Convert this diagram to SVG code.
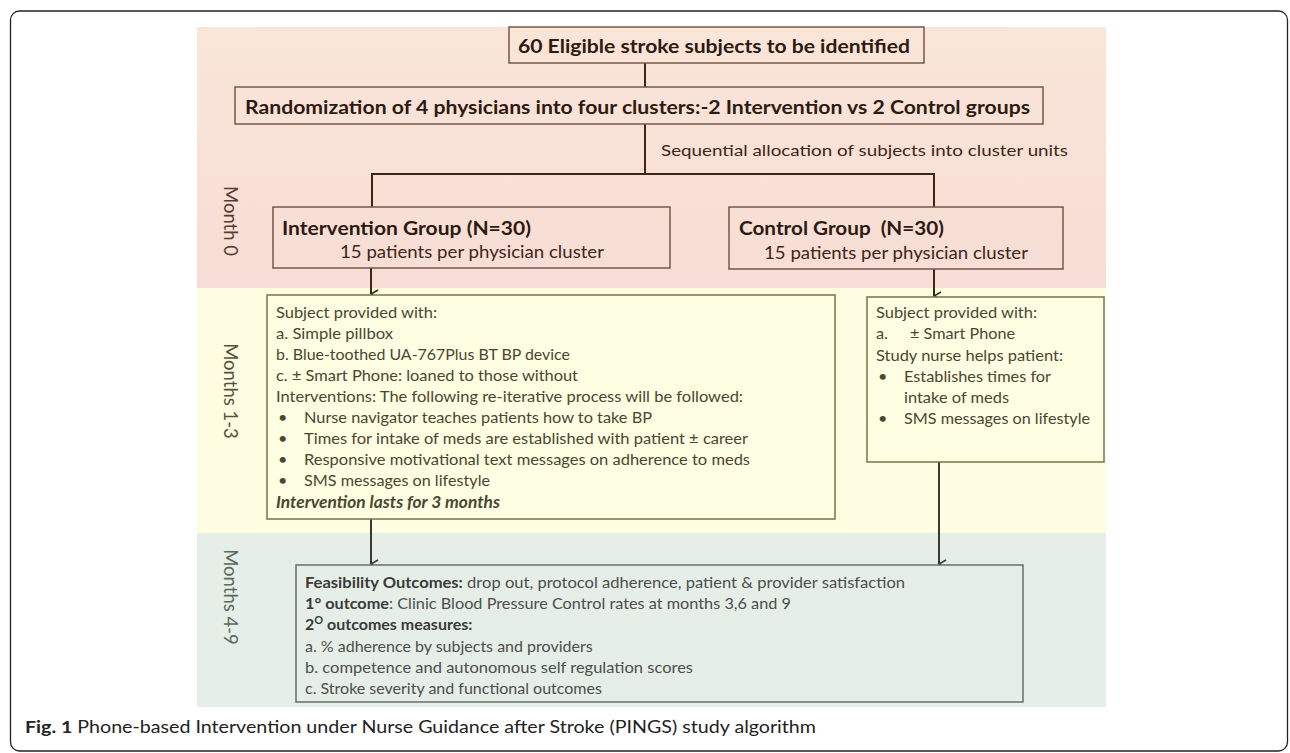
<svg xmlns="http://www.w3.org/2000/svg" width="1290" height="753" viewBox="0 0 1290 753">
<defs>
<linearGradient id="pinkGrad" x1="0" y1="0" x2="0" y2="1">
<stop offset="0" stop-color="#fae5d9"/>
<stop offset="1" stop-color="#f7ddd5"/>
</linearGradient>
<marker id="arrBrown" viewBox="0 0 10 10" refX="5" refY="9" markerWidth="10" markerHeight="10" markerUnits="userSpaceOnUse" orient="auto">
<path d="M1,2 L5,9 L9,2" fill="none" stroke="#3e2617" stroke-width="1.6"/>
</marker>
<marker id="arrDark" viewBox="0 0 10 10" refX="5" refY="9" markerWidth="10" markerHeight="10" markerUnits="userSpaceOnUse" orient="auto">
<path d="M1,2 L5,9 L9,2" fill="none" stroke="#333a33" stroke-width="1.6"/>
</marker>
<style>
text{font-family:Lato,"Liberation Sans",sans-serif;}
.pbox{fill:none;stroke:#75584a;stroke-width:1.5;}
.ybox{fill:#fefee3;stroke:#76764a;stroke-width:1.5;}
.gbox{fill:#e5efe7;stroke:#667369;stroke-width:1.5;}
.head{font-weight:bold;fill:#2e1a10;}
.ptext{fill:#3f2616;}
.ytext{fill:#4a4630;font-size:16.2px;}
.gtext{fill:#4d4d4d;font-size:16px;}
.gbold{font-weight:bold;fill:#3a3a3a;}
.month{font-size:18.5px;}
.conn{fill:none;stroke-width:2;}
</style>
</defs>

<!-- outer frame -->
<rect x="10.5" y="11" width="1277" height="740" rx="9" fill="none" stroke="#222" stroke-width="1.3"/>

<!-- phase panels -->
<g id="panels">
<rect x="197" y="27" width="909" height="262" fill="url(#pinkGrad)"/>
<rect x="197" y="288" width="909" height="245" fill="#fefde1"/>
<rect x="197" y="533" width="909" height="174" fill="#e5efe7"/>
</g>

<!-- month labels -->
<g id="labels">
<text class="month" fill="#5a3a2c" transform="translate(224,221) rotate(90)" text-anchor="middle">Month 0</text>
<text class="month" fill="#55533a" transform="translate(224,391) rotate(90)" text-anchor="middle">Months 1-3</text>
<text class="month" fill="#5d665f" transform="translate(224,597) rotate(90)" text-anchor="middle">Months 4-9</text>
</g>

<!-- connectors -->
<g id="connectors">
<line class="conn" x1="645" y1="63" x2="645" y2="87" stroke="#3e2617"/>
<polyline class="conn" points="645,124 645,174" stroke="#3e2617"/>
<polyline class="conn" points="372,207 372,174 934,174 934,207" stroke="#3e2617"/>
<line class="conn" x1="371" y1="268" x2="371" y2="294" stroke="#3e2617" stroke-width="1.8" marker-end="url(#arrBrown)"/>
<line class="conn" x1="934" y1="269" x2="934" y2="296" stroke="#3e2617" stroke-width="1.8" marker-end="url(#arrBrown)"/>
<line class="conn" x1="371" y1="519" x2="371" y2="564" stroke="#333a33" stroke-width="1.8" marker-end="url(#arrDark)"/>
<line class="conn" x1="939" y1="462" x2="939" y2="564" stroke="#333a33" stroke-width="1.8" marker-end="url(#arrDark)"/>
<text x="661" y="156" class="ptext" font-size="16px" fill="#5b4032" textLength="407" lengthAdjust="spacingAndGlyphs">Sequential allocation of subjects into cluster units</text>
</g>

<g id="eligible">
<rect class="pbox" x="509" y="27" width="415" height="36"/>
<text class="head" x="518" y="53" font-size="18px" textLength="392" lengthAdjust="spacingAndGlyphs">60 Eligible stroke subjects to be identified</text>
</g>

<g id="randomization">
<rect class="pbox" x="235" y="87" width="808" height="37"/>
<text class="head" x="245" y="114" font-size="19px" textLength="785" lengthAdjust="spacingAndGlyphs">Randomization of 4 physicians into four clusters:-2 Intervention vs 2 Control groups</text>
</g>

<g id="intervention-group">
<rect class="pbox" x="273" y="207" width="397" height="61"/>
<text class="head" x="282" y="235" font-size="19.5px" textLength="249" lengthAdjust="spacingAndGlyphs">Intervention Group (N=30)</text>
<text class="ptext" x="340" y="258" font-size="16.5px" textLength="264" lengthAdjust="spacingAndGlyphs">15 patients per physician cluster</text>
</g>

<g id="control-group">
<rect class="pbox" x="729" y="207" width="334" height="62"/>
<text class="head" x="739" y="235" font-size="19.5px" xml:space="preserve" textLength="205" lengthAdjust="spacingAndGlyphs">Control Group  (N=30)</text>
<text class="ptext" x="764" y="259" font-size="16.5px" textLength="264" lengthAdjust="spacingAndGlyphs">15 patients per physician cluster</text>
</g>

<g id="intervention-details">
<rect class="ybox" x="267" y="295" width="568" height="224"/>
<text class="ytext" x="276" y="318" textLength="161" lengthAdjust="spacingAndGlyphs">Subject provided with:</text>
<text class="ytext" x="276" y="339" textLength="117" lengthAdjust="spacingAndGlyphs">a. Simple pillbox</text>
<text class="ytext" x="276" y="360" textLength="294" lengthAdjust="spacingAndGlyphs">b. Blue-toothed UA-767Plus BT BP device</text>
<text class="ytext" x="276" y="381" textLength="302" lengthAdjust="spacingAndGlyphs">c. ± Smart Phone: loaned to those without</text>
<text class="ytext" x="276" y="402" textLength="467" lengthAdjust="spacingAndGlyphs">Interventions: The following re-iterative process will be followed:</text>
<text class="ytext" x="278" y="423">•</text>
<text class="ytext" x="304" y="423" textLength="348" lengthAdjust="spacingAndGlyphs">Nurse navigator teaches patients how to take BP</text>
<text class="ytext" x="278" y="444">•</text>
<text class="ytext" x="304" y="444" textLength="444" lengthAdjust="spacingAndGlyphs">Times for intake of meds are established with patient ± career</text>
<text class="ytext" x="278" y="465">•</text>
<text class="ytext" x="304" y="465" textLength="446" lengthAdjust="spacingAndGlyphs">Responsive motivational text messages on adherence to meds</text>
<text class="ytext" x="278" y="486">•</text>
<text class="ytext" x="304" y="486" textLength="186" lengthAdjust="spacingAndGlyphs">SMS messages on lifestyle</text>
<text class="ytext" x="276" y="508" font-weight="bold" font-style="italic" fill="#3a3620" textLength="224" lengthAdjust="spacingAndGlyphs">Intervention lasts for 3 months</text>
</g>

<g id="control-details">
<rect class="ybox" x="867" y="297" width="237" height="165"/>
<text class="ytext" x="876" y="318" textLength="161" lengthAdjust="spacingAndGlyphs">Subject provided with:</text>
<text class="ytext" x="876" y="339">a.</text>
<text class="ytext" x="910" y="339" textLength="105" lengthAdjust="spacingAndGlyphs">± Smart Phone</text>
<text class="ytext" x="876" y="361" textLength="187" lengthAdjust="spacingAndGlyphs">Study nurse helps patient:</text>
<text class="ytext" x="878" y="382">•</text>
<text class="ytext" x="904" y="382" textLength="147" lengthAdjust="spacingAndGlyphs">Establishes times for</text>
<text class="ytext" x="904" y="403" textLength="105" lengthAdjust="spacingAndGlyphs">intake of meds</text>
<text class="ytext" x="878" y="424">•</text>
<text class="ytext" x="904" y="424" textLength="186" lengthAdjust="spacingAndGlyphs">SMS messages on lifestyle</text>
</g>

<g id="outcomes">
<rect class="gbox" x="296" y="565" width="727" height="137"/>
<text class="gtext" x="305" y="588" textLength="600" lengthAdjust="spacingAndGlyphs"><tspan class="gbold">Feasibility Outcomes:</tspan> drop out, protocol adherence, patient &amp; provider satisfaction</text>
<text class="gtext" x="305" y="609" textLength="486" lengthAdjust="spacingAndGlyphs"><tspan class="gbold">1°</tspan><tspan class="gbold"> outcome</tspan>: Clinic Blood Pressure Control rates at months 3,6 and 9</text>
<text class="gtext" x="305" y="630"><tspan class="gbold">2</tspan><tspan class="gbold" font-size="11px" dy="-6">O</tspan><tspan class="gbold" dy="6"> outcomes measures:</tspan></text>
<text class="gtext" x="305" y="652">a. % adherence by subjects and providers</text>
<text class="gtext" x="305" y="673" textLength="388" lengthAdjust="spacingAndGlyphs">b. competence and autonomous self regulation scores</text>
<text class="gtext" x="305" y="694">c. Stroke severity and functional outcomes</text>
</g>

<g id="caption">
<text x="25" y="733" font-family="'Open Sans','Liberation Sans',sans-serif" font-size="17px" fill="#222" textLength="791" lengthAdjust="spacingAndGlyphs"><tspan font-weight="bold">Fig. 1</tspan> Phone-based Intervention under Nurse Guidance after Stroke (PINGS) study algorithm</text>
</g>
</svg>
